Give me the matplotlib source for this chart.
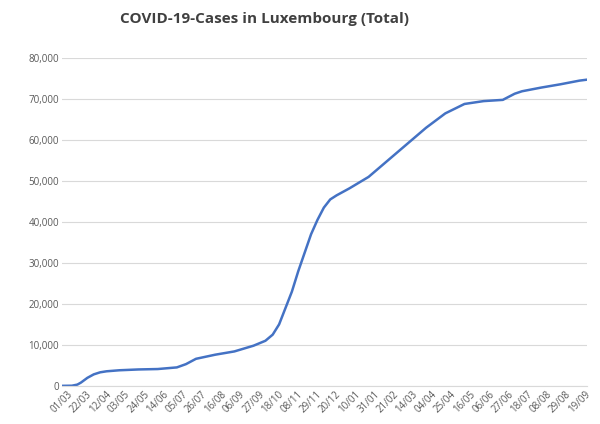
import numpy as np
import pandas as pd
from matplotlib import pyplot as plt

# dates and cumulative cases
dates = ["2020-03-01", "2020-03-12", "2020-03-18", "2020-03-22", "2020-03-29", "2020-04-05",
         "2020-04-12", "2020-04-19", "2020-05-03", "2020-05-24", "2020-06-14", "2020-07-05",
         "2020-07-15", "2020-07-26", "2020-08-16", "2020-09-06", "2020-09-27", "2020-10-10",
         "2020-10-18", "2020-10-25", "2020-11-01", "2020-11-08", "2020-11-15", "2020-11-22",
         "2020-11-29", "2020-12-06", "2020-12-13", "2020-12-20", "2020-12-27", "2021-01-10",
         "2021-01-31", "2021-02-21", "2021-03-14", "2021-04-04", "2021-04-25", "2021-05-16",
         "2021-06-06", "2021-06-27", "2021-07-10", "2021-07-18", "2021-08-08", "2021-08-29",
         "2021-09-19", "2021-09-26"]
cases = [0, 30, 300, 800, 1950, 2800,
         3300, 3550, 3800, 4000, 4100, 4500,
         5300, 6600, 7600, 8400, 9800, 11000,
         12500, 15000, 19000, 23000, 28000, 32500,
         37000, 40500, 43500, 45500, 46500, 48200,
         51000, 55000, 59000, 63000, 66500, 68800,
         69500, 69800, 71300, 71900, 72800, 73600,
         74500, 74700]

tick_labels = ["01/03", "22/03", "12/04", "03/05", "24/05", "14/06", "05/07", "26/07",
               "16/08", "06/09", "27/09", "18/10", "08/11", "29/11", "20/12", "10/01",
               "31/01", "21/02", "14/03", "04/04", "25/04", "16/05", "06/06", "27/06",
               "18/07", "08/08", "29/08", "19/09"]

plt.rcParams['font.family'] = ['Open Sans', 'DejaVu Sans']
d = pd.to_datetime(dates)
ticks = pd.date_range("2020-03-01", periods=len(tick_labels), freq="21D")

fig = plt.figure(figsize=(6, 4.24), dpi=100)
ax = fig.add_axes([0.103, 0.09, 0.875, 0.773])
ax.plot(d, cases, color="#4472C4", linewidth=1.8)
ax.set_xlim(pd.Timestamp("2020-03-01"), pd.Timestamp("2021-09-27"))
ax.set_ylim(0, 80000)
ax.set_yticks(np.arange(0, 80001, 10000))
ax.set_yticklabels(["0"] + ["{:,}".format(v) for v in range(10000, 80001, 10000)],
                   fontsize=7, color="#595959")
ax.set_xticks(ticks)
ax.set_xticklabels(tick_labels, rotation=45, fontsize=7, color="#595959")
ax.grid(axis="y", color="#D9D9D9", linewidth=0.8)
ax.set_axisbelow(True)
for s in ["top", "right", "left"]:
    ax.spines[s].set_visible(False)
ax.spines["bottom"].set_color("#D9D9D9")
ax.tick_params(length=0, pad=2)
fig.text(0.44, 0.955, "COVID-19-Cases in Luxembourg (Total)", ha="center", va="center",
         fontsize=11, fontweight="bold", color="#404040")
fig.savefig("out.png")
